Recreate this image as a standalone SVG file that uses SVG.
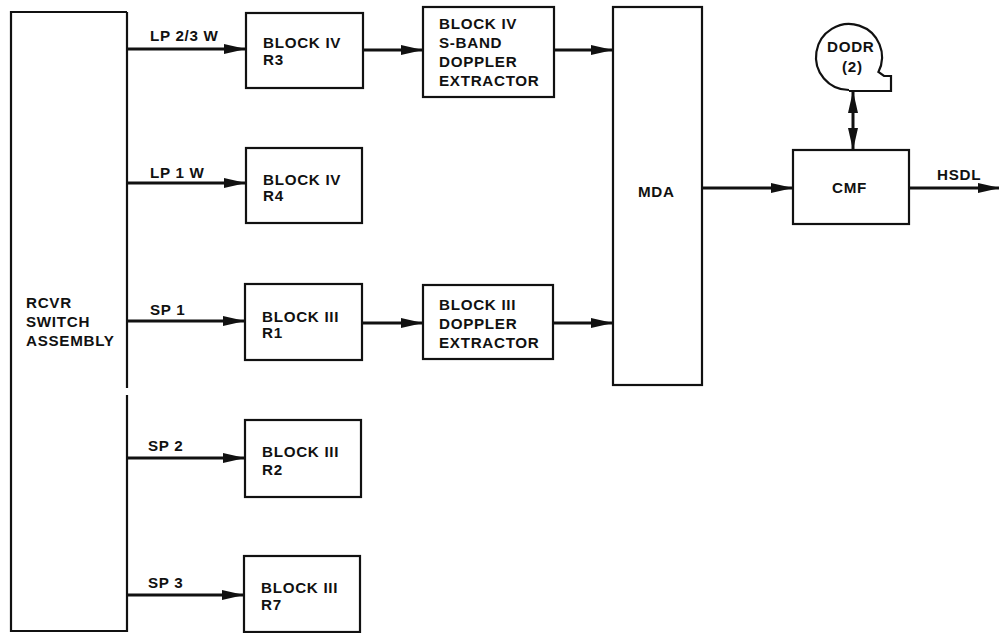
<svg xmlns="http://www.w3.org/2000/svg" width="999" height="633" viewBox="0 0 999 633">
<style>
.box{fill:none;stroke:#111;stroke-width:2.2}
.ln{fill:none;stroke:#111;stroke-width:3}
text{font-family:"Liberation Sans",Arial,sans-serif;font-weight:bold;font-size:15.2px;fill:#111;letter-spacing:0.7px}
</style>
<defs>
<marker id="ah" markerUnits="userSpaceOnUse" viewBox="0 0 22 12" refX="21" refY="6" markerWidth="22" markerHeight="12" orient="auto-start-reverse">
<path d="M0,1 L22,6 L0,11 Z" fill="#111"/>
</marker>
</defs>
<rect width="999" height="633" fill="#fff"/>
<g id="rcvr">
<path class="box" d="M127 12 H11 V631 H127 V395 M127 388 V12"/>
<text x="26" y="308">RCVR</text>
<text x="26" y="327">SWITCH</text>
<text x="26" y="346">ASSEMBLY</text>
</g>
<g id="r3">
<rect class="box" x="246" y="13" width="117" height="75"/>
<text x="263" y="48">BLOCK IV</text>
<text x="263" y="65">R3</text>
</g>
<g id="r4">
<rect class="box" x="246" y="148" width="116" height="75"/>
<text x="263" y="185">BLOCK IV</text>
<text x="263" y="201">R4</text>
</g>
<g id="r1">
<rect class="box" x="245" y="284" width="117" height="76"/>
<text x="262" y="322">BLOCK III</text>
<text x="262" y="338">R1</text>
</g>
<g id="r2">
<rect class="box" x="245" y="420" width="116" height="77"/>
<text x="262" y="457">BLOCK III</text>
<text x="262" y="475">R2</text>
</g>
<g id="r7">
<rect class="box" x="244" y="556" width="116" height="76"/>
<text x="261" y="593">BLOCK III</text>
<text x="261" y="610">R7</text>
</g>
<g id="ext4">
<rect class="box" x="423" y="7" width="131" height="90"/>
<text x="439" y="29">BLOCK IV</text>
<text x="439" y="48">S-BAND</text>
<text x="439" y="67">DOPPLER</text>
<text x="439" y="86">EXTRACTOR</text>
</g>
<g id="ext3">
<rect class="box" x="423" y="285" width="130" height="74"/>
<text x="439" y="310">BLOCK III</text>
<text x="439" y="329">DOPPLER</text>
<text x="439" y="348">EXTRACTOR</text>
</g>
<g id="mda">
<rect class="box" x="613" y="7" width="89" height="378"/>
<text x="638" y="197">MDA</text>
</g>
<g id="cmf">
<rect class="box" x="793" y="150" width="116" height="74"/>
<text x="832" y="193">CMF</text>
</g>
<g id="dodr">
<path class="box" d="M849 90 A33 33 0 1 1 878.4 72 L884 76 L891 76 L891 91 L849 91"/>
<text x="827" y="52">DODR</text>
<text x="842" y="72">(2)</text>
</g>
<g id="connectors">
<line class="ln" x1="127" y1="49" x2="245" y2="49" marker-end="url(#ah)"/>
<line class="ln" x1="127" y1="183" x2="245" y2="183" marker-end="url(#ah)"/>
<line class="ln" x1="127" y1="321" x2="244" y2="321" marker-end="url(#ah)"/>
<line class="ln" x1="127" y1="458" x2="244" y2="458" marker-end="url(#ah)"/>
<line class="ln" x1="127" y1="595" x2="243" y2="595" marker-end="url(#ah)"/>
<line class="ln" x1="363" y1="50" x2="422" y2="50" marker-end="url(#ah)"/>
<line class="ln" x1="362" y1="323" x2="422" y2="323" marker-end="url(#ah)"/>
<line class="ln" x1="554" y1="50" x2="612" y2="50" marker-end="url(#ah)"/>
<line class="ln" x1="553" y1="323" x2="612" y2="323" marker-end="url(#ah)"/>
<line class="ln" x1="702" y1="188" x2="792" y2="188" marker-end="url(#ah)"/>
<line class="ln" x1="909" y1="188" x2="999" y2="188" marker-end="url(#ah)"/>
<line class="ln" x1="853" y1="92" x2="853" y2="149" marker-start="url(#ah)" marker-end="url(#ah)"/>
<text x="150" y="41">LP 2/3 W</text>
<text x="150" y="178">LP 1 W</text>
<text x="150" y="315">SP 1</text>
<text x="148" y="451">SP 2</text>
<text x="148" y="588">SP 3</text>
<text x="937" y="180">HSDL</text>
</g>
</svg>
